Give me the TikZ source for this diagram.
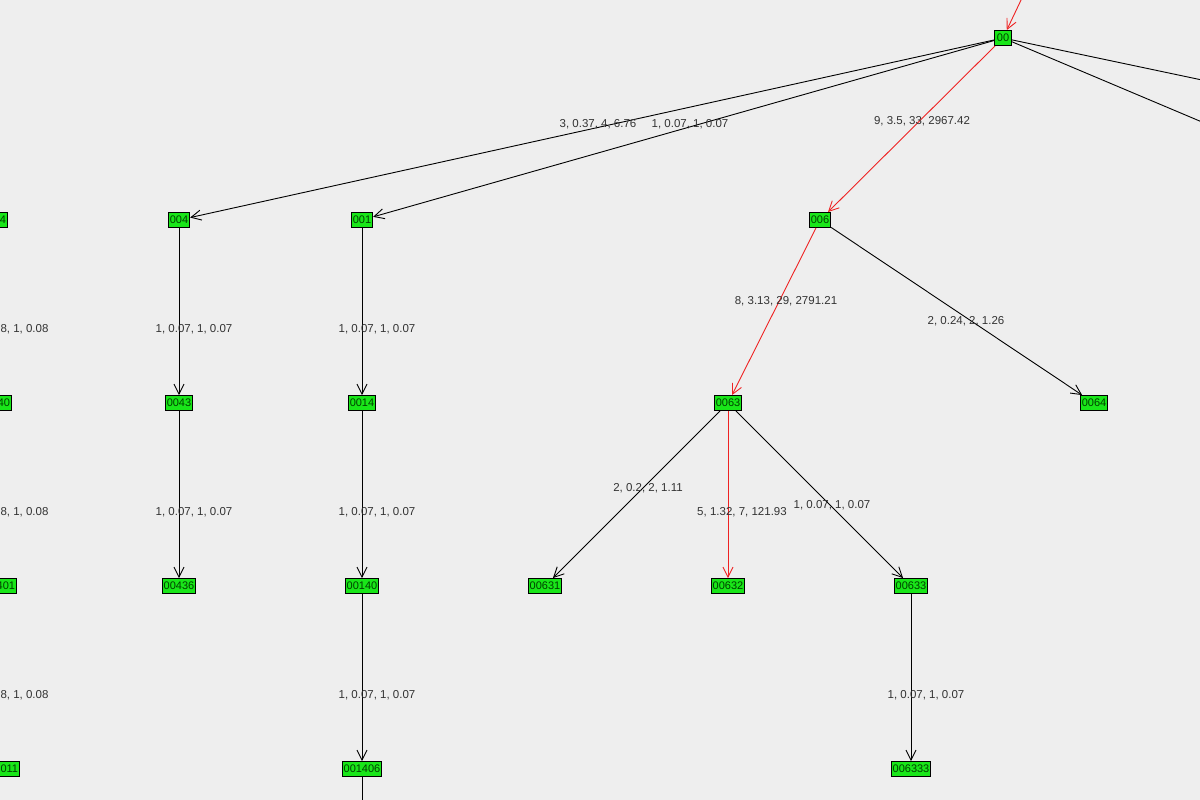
\documentclass[tikz,border=0pt]{standalone}
\usepackage{fontspec}
\setmainfont{Liberation Sans}
\usetikzlibrary{arrows.meta}
\definecolor{bg}{HTML}{EEEEEE}
\definecolor{ng}{HTML}{19E619}
\definecolor{tx}{HTML}{333333}
\definecolor{rd}{HTML}{EE2222}
\tikzset{
 nd/.style={draw=black,line width=0.9pt,fill=ng,inner sep=1.5pt,minimum height=15pt,minimum width=17pt,font=\fontsize{11}{12}\selectfont,text=black!75!green},
 lb/.style={font=\fontsize{11.5}{12}\selectfont,text=tx},
 ed/.style={draw=black,line width=0.9pt,-{Straight Barb[length=10pt,width=10pt]}},
 re/.style={draw=rd,line width=0.9pt,-{Straight Barb[length=10pt,width=10pt]}},
 ln/.style={draw=black,line width=0.9pt}
}
\begin{document}
\begin{tikzpicture}[x=1pt,y=-1pt]
\fill[bg] (0,0) rectangle (1200,800);
\useasboundingbox (0,0) rectangle (1200,800);
\begin{scope}
\clip (0,0) rectangle (1200,800);
\node[nd] (n00) at (1003,38) {00};
\node[nd] (n004) at (179,220) {004};
\node[nd] (n001) at (362,220) {001};
\node[nd] (n006) at (820,220) {006};
\node[nd] (n0043) at (179,403) {0043};
\node[nd] (n0014) at (362,403) {0014};
\node[nd] (n0063) at (728,403) {0063};
\node[nd] (n0064) at (1094,403) {0064};
\node[nd] (n00436) at (179,586) {00436};
\node[nd] (n00140) at (362,586) {00140};
\node[nd] (n00631) at (545,586) {00631};
\node[nd] (n00632) at (728,586) {00632};
\node[nd] (n00633) at (911,586) {00633};
\node[nd] (n001406) at (362,769) {001406};
\node[nd] (n006333) at (911,769) {006333};
\node[nd,anchor=east] (l1) at (8,220) {004};
\node[nd,anchor=east] (l2) at (12,403) {0040};
\node[nd,anchor=east] (l3) at (17,586) {00401};
\node[nd,anchor=east] (l4) at (20,769) {004011};
\coordinate (top) at (1022,-2);
\coordinate (r1) at (1202,80);
\coordinate (r2) at (1202,122);
\coordinate (bot) at (362,802);
\draw[re] (top) -- (n00);
\draw[ln] (n00) -- (r1);
\draw[ln] (n00) -- (r2);
\draw[ed] (n00) -- (n004);
\draw[ed] (n00) -- (n001);
\draw[re] (n00) -- (n006);
\draw[re] (n006) -- (n0063);
\draw[ed] (n006) -- (n0064);
\draw[ed] (n004) -- (n0043);
\draw[ed] (n0043) -- (n00436);
\draw[ed] (n001) -- (n0014);
\draw[ed] (n0014) -- (n00140);
\draw[ed] (n00140) -- (n001406);
\draw[ln] (n001406) -- (bot);
\draw[ed] (n0063) -- (n00631);
\draw[re] (n0063) -- (n00632);
\draw[ed] (n0063) -- (n00633);
\draw[ed] (n00633) -- (n006333);
\node[lb] at (598,124) {3, 0.37, 4, 6.76};
\node[lb] at (690,124) {1, 0.07, 1, 0.07};
\node[lb] at (922,121) {9, 3.5, 33, 2967.42};
\node[lb] at (786,301) {8, 3.13, 29, 2791.21};
\node[lb] at (966,321) {2, 0.24, 2, 1.26};
\node[lb] at (194,329) {1, 0.07, 1, 0.07};
\node[lb] at (377,329) {1, 0.07, 1, 0.07};
\node[lb] at (194,512) {1, 0.07, 1, 0.07};
\node[lb] at (377,512) {1, 0.07, 1, 0.07};
\node[lb] at (377,695) {1, 0.07, 1, 0.07};
\node[lb] at (926,695) {1, 0.07, 1, 0.07};
\node[lb] at (648,488) {2, 0.2, 2, 1.11};
\node[lb] at (742,512) {5, 1.32, 7, 121.93};
\node[lb] at (832,505) {1, 0.07, 1, 0.07};
\node[lb,anchor=east] at (52,329) {0.08, 1, 0.08};
\node[lb,anchor=east] at (52,512) {0.08, 1, 0.08};
\node[lb,anchor=east] at (52,695) {0.08, 1, 0.08};
\end{scope}
\end{tikzpicture}
\end{document}
